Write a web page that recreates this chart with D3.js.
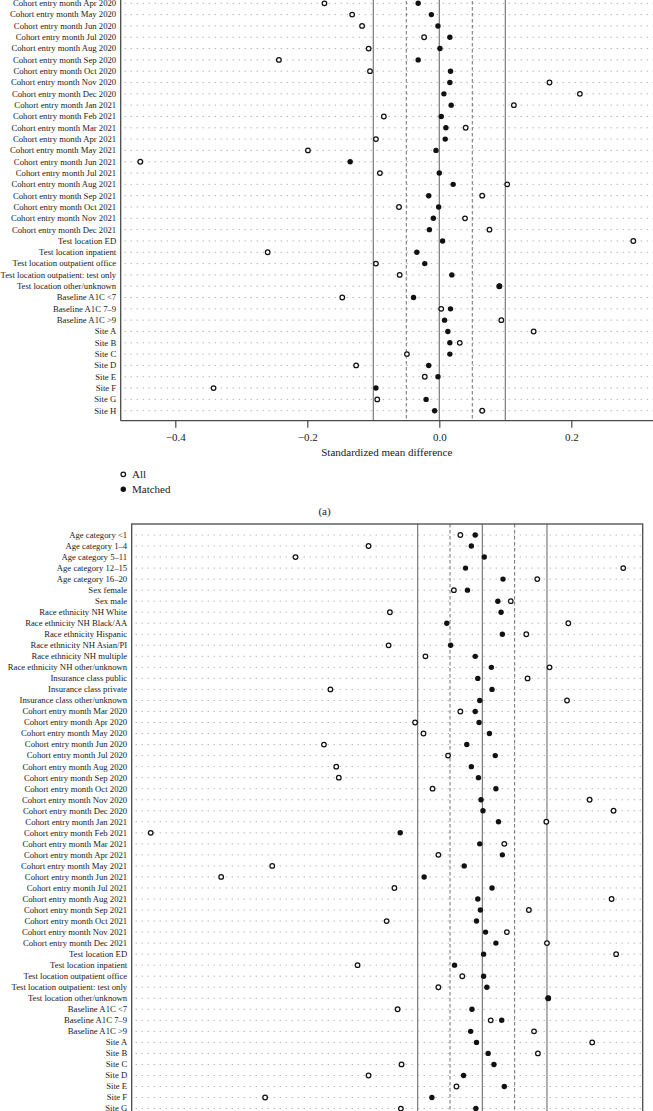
<!DOCTYPE html>
<html>
<head>
<meta charset="utf-8">
<script src="https://cdn.jsdelivr.net/npm/d3@7"></script>
<style>
  html, body { margin: 0; padding: 0; background: #fff; }
  svg { display: block; }
  text { font-family: "Liberation Serif", "DejaVu Serif", serif; fill: #1a1a1a; }
</style>
</head>
<body>
<svg id="chart" width="653" height="1111"></svg>
<script>
// ---------- data ----------
const labelsA = [
  "Cohort entry month Apr 2020", "Cohort entry month May 2020", "Cohort entry month Jun 2020",
  "Cohort entry month Jul 2020", "Cohort entry month Aug 2020", "Cohort entry month Sep 2020",
  "Cohort entry month Oct 2020", "Cohort entry month Nov 2020", "Cohort entry month Dec 2020",
  "Cohort entry month Jan 2021", "Cohort entry month Feb 2021", "Cohort entry month Mar 2021",
  "Cohort entry month Apr 2021", "Cohort entry month May 2021", "Cohort entry month Jun 2021",
  "Cohort entry month Jul 2021", "Cohort entry month Aug 2021", "Cohort entry month Sep 2021",
  "Cohort entry month Oct 2021", "Cohort entry month Nov 2021", "Cohort entry month Dec 2021",
  "Test location ED", "Test location inpatient", "Test location outpatient office",
  "Test location outpatient: test only", "Test location other/unknown",
  "Baseline A1C <7", "Baseline A1C 7–9", "Baseline A1C >9",
  "Site A", "Site B", "Site C", "Site D", "Site E", "Site F", "Site G", "Site H"
];
const allA = [
  -0.174, -0.132, -0.117, -0.023, -0.107, -0.243, -0.105, 0.167, 0.213, 0.113,
  -0.084, 0.040, -0.096, -0.199, -0.453, -0.090, 0.103, 0.065, -0.061, 0.039,
  0.076, 0.294, -0.260, -0.096, -0.060, 0.091, -0.147, 0.003, 0.094,
  0.143, 0.031, -0.049, -0.126, -0.022, -0.342, -0.094, 0.065
];
const matchedA = [
  -0.032, -0.012, -0.002, 0.016, 0.001, -0.032, 0.017, 0.016, 0.007, 0.018,
  0.003, 0.010, 0.009, -0.005, -0.135, 0.000, 0.021, -0.016, -0.001, -0.009,
  -0.015, 0.005, -0.034, -0.022, 0.019, 0.091, -0.039, 0.017, 0.008,
  0.013, 0.016, 0.016, -0.016, -0.002, -0.096, -0.020, -0.007
];

const labelsB = [
  "Age category <1", "Age category 1–4", "Age category 5–11", "Age category 12–15", "Age category 16–20",
  "Sex female", "Sex male",
  "Race ethnicity NH White", "Race ethnicity NH Black/AA", "Race ethnicity Hispanic",
  "Race ethnicity NH Asian/PI", "Race ethnicity NH multiple", "Race ethnicity NH other/unknown",
  "Insurance class public", "Insurance class private", "Insurance class other/unknown",
  "Cohort entry month Mar 2020", "Cohort entry month Apr 2020", "Cohort entry month May 2020",
  "Cohort entry month Jun 2020", "Cohort entry month Jul 2020", "Cohort entry month Aug 2020",
  "Cohort entry month Sep 2020", "Cohort entry month Oct 2020", "Cohort entry month Nov 2020",
  "Cohort entry month Dec 2020", "Cohort entry month Jan 2021", "Cohort entry month Feb 2021",
  "Cohort entry month Mar 2021", "Cohort entry month Apr 2021", "Cohort entry month May 2021",
  "Cohort entry month Jun 2021", "Cohort entry month Jul 2021", "Cohort entry month Aug 2021",
  "Cohort entry month Sep 2021", "Cohort entry month Oct 2021", "Cohort entry month Nov 2021",
  "Cohort entry month Dec 2021",
  "Test location ED", "Test location inpatient", "Test location outpatient office",
  "Test location outpatient: test only", "Test location other/unknown",
  "Baseline A1C <7", "Baseline A1C 7–9", "Baseline A1C >9",
  "Site A", "Site B", "Site C", "Site D", "Site E", "Site F", "Site G"
];
const allB = [
  -0.034, -0.176, -0.289, 0.218, 0.085, -0.044, 0.044, -0.143, 0.133, 0.068,
  -0.145, -0.088, 0.104, 0.070, -0.235, 0.131,
  -0.034, -0.104, -0.091, -0.245, -0.053, -0.226, -0.222, -0.077, 0.166, 0.203,
  0.099, -0.513, 0.034, -0.068, -0.325, -0.404, -0.136, 0.200, 0.072, -0.148,
  0.038, 0.100,
  0.207, -0.193, -0.031, -0.068, 0.102,
  -0.131, 0.013, 0.080,
  0.170, 0.086, -0.125, -0.176, -0.040, -0.336, -0.126
];
const matchedB = [
  -0.011, -0.017, 0.003, -0.026, 0.032, -0.023, 0.024, 0.029, -0.055, 0.031,
  -0.049, -0.011, 0.014, -0.007, 0.015, -0.004,
  -0.011, -0.005, 0.011, -0.024, 0.020, -0.017, -0.006, 0.021, -0.002, 0.001,
  0.025, -0.127, -0.004, 0.031, -0.028, -0.090, 0.015, -0.007, -0.003, -0.009,
  0.005, 0.021,
  0.002, -0.043, 0.002, 0.007, 0.102,
  -0.016, 0.030, -0.018,
  -0.009, 0.009, 0.018, -0.029, 0.034, -0.078, -0.010
];

const ticksA = [-0.4, -0.2, 0.0, 0.2];
const refSolid = [-0.1, 0, 0.1];
const refDashed = [-0.05, 0.05];
const legendLabels = ["All", "Matched"];

// ---------- drawing ----------
const svg = d3.select("#chart");
const GRID = "#8a8a8a", REF = "#6e6e6e", AXIS = "#4a4a4a";

function panel(cfg) {
  const g = svg.append("g");
  const x = d3.scaleLinear().domain(cfg.xDomain).range([cfg.left, cfg.right]);
  const y = d3.scalePoint().domain(cfg.labels).range(cfg.yRange);

  g.selectAll("line.row").data(cfg.labels).join("line")
    .attr("x1", cfg.left + 4).attr("x2", cfg.right)
    .attr("y1", d => y(d)).attr("y2", d => y(d))
    .attr("stroke", GRID).attr("stroke-width", 0.9)
    .attr("stroke-dasharray", "1,5");

  g.selectAll("line.solid").data(refSolid).join("line")
    .attr("x1", d => x(d)).attr("x2", d => x(d))
    .attr("y1", cfg.top).attr("y2", cfg.bottom)
    .attr("stroke", REF).attr("stroke-width", 1.1);
  g.selectAll("line.dash").data(refDashed).join("line")
    .attr("x1", d => x(d)).attr("x2", d => x(d))
    .attr("y1", cfg.top).attr("y2", cfg.bottom)
    .attr("stroke", REF).attr("stroke-width", 1)
    .attr("stroke-dasharray", "3.5,2.5");

  g.selectAll("text.lab").data(cfg.labels).join("text")
    .attr("x", cfg.left - 4.5).attr("y", d => y(d))
    .attr("dy", "0.33em")
    .attr("text-anchor", "end")
    .attr("font-size", 8.7)
    .text(d => d);

  g.selectAll("circle.all").data(cfg.labels).join("circle")
    .attr("cx", (d, i) => x(cfg.all[i])).attr("cy", d => y(d))
    .attr("r", 2.3).attr("fill", "#fff").attr("stroke", "#111").attr("stroke-width", 1.25);
  g.selectAll("circle.m").data(cfg.labels).join("circle")
    .attr("cx", (d, i) => x(cfg.matched[i])).attr("cy", d => y(d))
    .attr("r", 2.7).attr("fill", "#111");

  return {g, x, y};
}

// Panel (a)
const A = panel({
  labels: labelsA, all: allA, matched: matchedA,
  xDomain: [-0.4827, 0.3238], left: 120.7, right: 653,
  yRange: [3.3, 410.7], top: -5, bottom: 420.7
});
A.g.append("line").attr("x1", 120.7).attr("x2", 120.7).attr("y1", -5).attr("y2", 420.7)
  .attr("stroke", AXIS).attr("stroke-width", 1.3);
const axA = A.g.append("g").attr("transform", "translate(0,420.7)")
  .call(d3.axisBottom(A.x).tickValues(ticksA).tickSize(7).tickPadding(6).tickFormat(d3.format(".1f")));
axA.select(".domain").remove();
A.g.append("line").attr("x1", 120.7).attr("x2", 653).attr("y1", 420.7).attr("y2", 420.7)
  .attr("stroke", AXIS).attr("stroke-width", 1.3);
axA.selectAll(".tick line").attr("stroke", AXIS).attr("stroke-width", 1.2);
axA.selectAll(".tick text").attr("font-size", 11).attr("fill", "#1a1a1a")
  .attr("font-family", "Liberation Serif, DejaVu Serif, serif");

svg.append("text").attr("x", 386.8).attr("y", 456).attr("text-anchor", "middle")
  .attr("font-size", 11).text("Standardized mean difference");

const leg = svg.append("g");
leg.selectAll("circle").data(legendLabels).join("circle")
  .attr("cx", 123.3).attr("cy", (d, i) => 474.3 + i * 15)
  .attr("r", (d, i) => i === 0 ? 2.3 : 2.7)
  .attr("fill", (d, i) => i === 0 ? "#fff" : "#111")
  .attr("stroke", (d, i) => i === 0 ? "#111" : "none")
  .attr("stroke-width", 1.25);
leg.selectAll("text").data(legendLabels).join("text")
  .attr("x", 132).attr("y", (d, i) => 474.3 + i * 15).attr("dy", "0.35em")
  .attr("font-size", 11).text(d => d);

svg.append("text").attr("x", 324.5).attr("y", 511).attr("dy", "0.35em")
  .attr("text-anchor", "middle").attr("font-size", 11).text("(a)");

// Panel (b)
const B = panel({
  labels: labelsB, all: allB, matched: matchedB,
  xDomain: [-0.5424, 0.2481], left: 131.7, right: 642.7,
  yRange: [535, 535 + 52 * 11.03], top: 524, bottom: 1120
});
B.g.append("rect").attr("x", 131.7).attr("y", 524).attr("width", 642.7 - 131.7).attr("height", 620)
  .attr("fill", "none").attr("stroke", AXIS).attr("stroke-width", 1.3);
</script>
</body>
</html>
